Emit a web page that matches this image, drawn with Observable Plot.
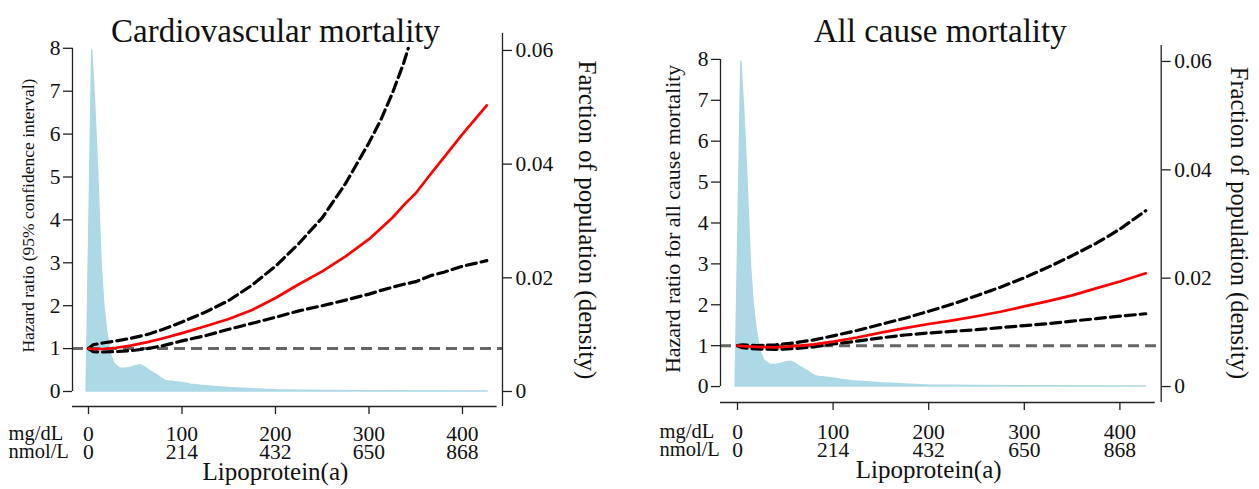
<!DOCTYPE html>
<html><head><meta charset="utf-8">
<script src="https://cdn.jsdelivr.net/npm/d3@7"></script>
<script src="https://cdn.jsdelivr.net/npm/@observablehq/plot@0.6"></script>
<style>
body{margin:0;background:#fff;}
#wrap{position:relative;width:1259px;height:489px;overflow:hidden;background:#fff;}
#wrap > div{position:absolute;top:0;}
</style></head><body>
<div id="wrap"><div id="p1" style="left:0px"></div><div id="p2" style="left:630px"></div></div>
<script>
// ---- data ----
const mgTicks = [0, 100, 200, 300, 400];
const nmolTicks = [0, 214, 432, 650, 868];
const hrTicks = [0, 1, 2, 3, 4, 5, 6, 7, 8];
const densTicks = [0, 0.02, 0.04, 0.06];
const densTickLabels = ["0", "0.02", "0.04", "0.06"];

const densMg  = [-2, 4, 7, 10, 14, 17, 20, 24, 28, 34, 40, 46, 52, 56, 60, 66, 72, 78, 82, 86, 90, 95, 100, 110, 120, 135, 150, 175, 200, 250, 300, 427];
const densVal = [0, 0.0600, 0.051, 0.040, 0.0225, 0.015, 0.0105, 0.0065, 0.0048, 0.0040, 0.0040, 0.0042, 0.0045, 0.0046, 0.0043, 0.0036, 0.0030, 0.0023, 0.0019, 0.0017, 0.0017, 0.0016, 0.0015, 0.0012, 0.0010, 0.0008, 0.0006, 0.0004, 0.0002, 0.0001, 0.00005, 0];

const cvdMg    = [0, 5, 15, 30, 45, 63, 80, 100, 125, 150, 175, 200, 225, 250, 275, 300, 312, 325, 337, 342, 350, 366, 380, 400, 426];
const cvdHR    = [1.00, 0.99, 0.99, 1.02, 1.07, 1.15, 1.24, 1.36, 1.52, 1.69, 1.90, 2.18, 2.50, 2.80, 3.15, 3.55, 3.79, 4.05, 4.34, 4.45, 4.62, 5.07, 5.45, 6.00, 6.67];
const cvdUpper = [1.00, 1.09, 1.13, 1.18, 1.24, 1.33, 1.45, 1.62, 1.85, 2.12, 2.48, 2.92, 3.45, 4.05, 4.85, 5.80, 6.30, 6.95, 7.65, 8.00, null, null, null, null, null];
const cvdLower = [1.00, 0.93, 0.92, 0.93, 0.95, 1.00, 1.07, 1.18, 1.30, 1.45, 1.59, 1.73, 1.88, 2.00, 2.13, 2.27, 2.35, 2.43, 2.50, 2.52, 2.56, 2.70, 2.78, 2.92, 3.05];

const allMg    = [0, 5, 20, 40, 60, 80, 100, 125, 150, 175, 200, 225, 250, 275, 300, 325, 350, 375, 400, 427];
const allHR    = [1.00, 0.99, 0.97, 0.96, 0.99, 1.03, 1.10, 1.20, 1.32, 1.43, 1.53, 1.62, 1.72, 1.83, 1.96, 2.09, 2.23, 2.40, 2.57, 2.77];
const allUpper = [1.00, 1.02, 1.00, 1.02, 1.07, 1.14, 1.24, 1.37, 1.52, 1.67, 1.84, 2.02, 2.22, 2.43, 2.66, 2.92, 3.20, 3.50, 3.85, 4.30];
const allLower = [1.00, 0.95, 0.92, 0.91, 0.93, 0.97, 1.04, 1.11, 1.19, 1.26, 1.31, 1.35, 1.39, 1.44, 1.49, 1.54, 1.60, 1.66, 1.72, 1.78];

// density is drawn on the hazard-ratio scale; the right axis maps it back
const K = 132.5;
const FONT = "'Liberation Serif', 'Times New Roman', Times, serif";

function panel(o) {
  const curves = o.mg.map((m, i) => ({mg: m, hr: o.hr[i], up: o.up[i], lo: o.lo[i]}));
  const dens = densMg.map((m, i) => ({mg: m, v: densVal[i] * K}));
  const [x0, x1] = o.xdom, [y0, y1] = o.ydom;
  const rowGap = 17.8;
  return Plot.plot({
    width: o.width, height: 489,
    marginLeft: o.ml, marginRight: o.mr, marginTop: o.mt, marginBottom: o.mb,
    x: {domain: o.xdom, axis: null},
    y: {domain: o.ydom, axis: null},
    style: {fontFamily: FONT, fontSize: "21.5px", color: "#111", background: "transparent", overflow: "visible"},
    marks: [
      Plot.areaY(dens, {x: "mg", y: "v", fill: "#add8e6", stroke: "#add8e6", strokeWidth: 1.5}),
      Plot.ruleY([1], {stroke: "#666", strokeWidth: 3, strokeDasharray: "11,6"}),
      Plot.line(curves, {x: "mg", y: "up", stroke: "#000", strokeWidth: 3.2, strokeDasharray: "10,5"}),
      Plot.line(curves, {x: "mg", y: "lo", stroke: "#000", strokeWidth: 3.2, strokeDasharray: "10,5"}),
      Plot.line(curves, {x: "mg", y: "hr", stroke: "#ff0000", strokeWidth: 2.7}),
      // left HR axis
      Plot.ruleX([x0], {y1: 0, y2: 8, stroke: "#222", strokeWidth: 1.3}),
      Plot.axisY({anchor: "left", ticks: hrTicks, tickFormat: d => String(d), tickSize: 9, tickPadding: 3, label: null, stroke: "#222", strokeWidth: 1.3}),
      // right density axis
      Plot.ruleX([x1], {y1: y0, y2: y1, stroke: "#222", strokeWidth: 1.3}),
      Plot.axisY({anchor: "right", ticks: densTicks.map(d => d * K), tickFormat: (d, i) => densTickLabels[i], tickSize: 9, tickPadding: 4, label: null, stroke: "#222", strokeWidth: 1.3}),
      // x axis
      Plot.ruleY([y0], {x1: x0, x2: 437, stroke: "#222", strokeWidth: 1.3}),
      Plot.axisX({anchor: "bottom", ticks: mgTicks, tickFormat: d => String(d), tickSize: 8, tickPadding: o.row1, label: null, stroke: "#222", strokeWidth: 1.3}),
      Plot.axisX({anchor: "bottom", ticks: mgTicks, tickFormat: (d, i) => String(nmolTicks[i]), tickSize: 0, tickPadding: o.row1 + 8 + rowGap, label: null}),
      Plot.text(["mg/dL"], {frameAnchor: "bottom-left", textAnchor: "start", lineAnchor: "top", dx: o.unitDx, dy: o.row1 + 8, fontSize: 20.5, fill: "#111"}),
      Plot.text(["nmol/L"], {frameAnchor: "bottom-left", textAnchor: "start", lineAnchor: "top", dx: o.unitDx, dy: o.row1 + 8 + rowGap, fontSize: 20.5, fill: "#111"}),
      Plot.text(["Lipoprotein(a)"], {x: 200, frameAnchor: "bottom", lineAnchor: "top", dy: o.labDy, fontSize: 25, fill: "#111"}),
      // titles and axis labels
      Plot.text([o.title], {x: o.titleX, frameAnchor: "top", lineAnchor: "bottom", dy: o.titleDy, fontSize: 33, fill: "#111"}),
      Plot.text([o.ylab], {y: 4.1, frameAnchor: "left", textAnchor: "middle", rotate: -90, dx: o.ylabDx, fontSize: o.ylabSize, fill: "#111"}),
      Plot.text([o.dlab], {y: 4.0, frameAnchor: "right", textAnchor: "middle", rotate: 90, dx: o.dlabDx, fontSize: o.dlabSize, fill: "#111"})
    ]
  });
}

document.getElementById("p1").append(panel({
  mg: cvdMg, hr: cvdHR, up: cvdUpper, lo: cvdLower,
  width: 625, ml: 72, mr: 123, mt: 33, mb: 83,
  xdom: [-17.1, 442.8], ydom: [-0.35, 8.345],
  row1: 11, unitDx: -64, labDy: 56,
  title: "Cardiovascular mortality", titleX: 200, titleDy: 8,
  ylab: "Hazard ratio (95% confidence interval)", ylabDx: -44, ylabSize: 17.5,
  dlab: "Farction of population (density)", dlabDx: 84, dlabSize: 25
}));
document.getElementById("p2").append(panel({
  mg: allMg, hr: allHR, up: allUpper, lo: allLower,
  width: 629, ml: 90, mr: 98.3, mt: 45, mb: 87,
  xdom: [-17.8, 443.2], ydom: [-0.39, 8.34],
  row1: 13, unitDx: -61, labDy: 58,
  title: "All cause mortality", titleX: 212, titleDy: -4,
  ylab: "Hazard ratio for all cause mortality", ylabDx: -48, ylabSize: 22,
  dlab: "Fraction of population (density)", dlabDx: 78, dlabSize: 24.5
}));
</script>
</body></html>
